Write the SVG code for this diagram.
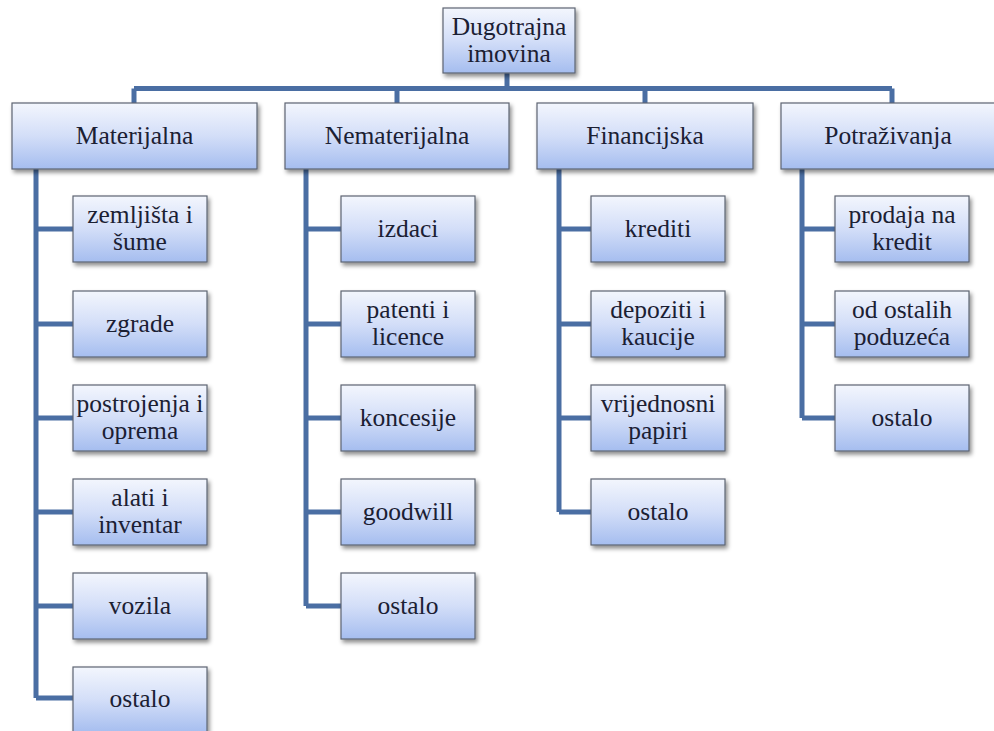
<svg xmlns="http://www.w3.org/2000/svg" width="994" height="731" viewBox="0 0 994 731">
<defs>
<linearGradient id="g" x1="0" y1="0" x2="0" y2="1">
<stop offset="0" stop-color="#f3f6fd"/>
<stop offset="0.5" stop-color="#d3def8"/>
<stop offset="1" stop-color="#a5bdef"/>
</linearGradient>
<filter id="sh" x="-10%" y="-10%" width="130%" height="140%">
<feDropShadow dx="2" dy="3" stdDeviation="2" flood-color="#000" flood-opacity="0.45"/>
</filter>
</defs>
<style>
.b{fill:url(#g);stroke:#5d6472;stroke-width:1.2;filter:url(#sh)}
.t{font-family:'Liberation Serif','Times New Roman',serif;font-size:25.5px;fill:#1b2033;text-anchor:middle}
.c{fill:none;stroke:#4a6ea3;stroke-width:5;stroke-linejoin:miter}
</style>
<rect width="994" height="731" fill="#ffffff"/>
<g id="connectors">
<path class="c" d="M507,73 V88.5 M134,88.5 H892 M134,88.5 V103 M397,88.5 V103 M645,88.5 V103 M892,88.5 V103"/>
<path class="c" d="M36,169 V698 M36,229 H73 M36,324 H73 M36,418 H73 M36,512 H73 M36,606 H73 M36,698 H73"/>
<path class="c" d="M306,169 V606 M306,229 H341 M306,324 H341 M306,418 H341 M306,512 H341 M306,606 H341"/>
<path class="c" d="M559,169 V512 M559,229 H591 M559,324 H591 M559,418 H591 M559,512 H591"/>
<path class="c" d="M802,169 V418 M802,229 H835 M802,324 H835 M802,418 H835"/>
</g>
<g id="root"><rect class="b" x="443" y="8" width="132" height="65"/><text class="t" x="509" y="35">Dugotrajna</text><text class="t" x="509" y="62">imovina</text></g>
<g id="materijalna"><rect class="b" x="12" y="103" width="245" height="66"/><text class="t" x="134.5" y="144">Materijalna</text></g>
<g id="nematerijalna"><rect class="b" x="285" y="103" width="224" height="66"/><text class="t" x="397" y="144">Nematerijalna</text></g>
<g id="financijska"><rect class="b" x="537" y="103" width="216" height="66"/><text class="t" x="645" y="144">Financijska</text></g>
<g id="potrazivanja"><rect class="b" x="781" y="103" width="224" height="66"/><text class="t" x="888" y="144">Potraživanja</text></g>

<g id="m1"><rect class="b" x="73" y="196" width="134" height="66"/><text class="t" x="140" y="223">zemljišta i</text><text class="t" x="140" y="250">šume</text></g>
<g id="m2"><rect class="b" x="73" y="291" width="134" height="66"/><text class="t" x="140" y="332">zgrade</text></g>
<g id="m3"><rect class="b" x="73" y="385" width="134" height="66"/><text class="t" x="140" y="412">postrojenja i</text><text class="t" x="140" y="439">oprema</text></g>
<g id="m4"><rect class="b" x="73" y="479" width="134" height="66"/><text class="t" x="140" y="506">alati i</text><text class="t" x="140" y="533">inventar</text></g>
<g id="m5"><rect class="b" x="73" y="573" width="134" height="66"/><text class="t" x="140" y="614">vozila</text></g>
<g id="m6"><rect class="b" x="73" y="667" width="134" height="66"/><text class="t" x="140" y="707">ostalo</text></g>

<g id="n1"><rect class="b" x="341" y="196" width="134" height="66"/><text class="t" x="408" y="237">izdaci</text></g>
<g id="n2"><rect class="b" x="341" y="291" width="134" height="66"/><text class="t" x="408" y="318">patenti i</text><text class="t" x="408" y="345">licence</text></g>
<g id="n3"><rect class="b" x="341" y="385" width="134" height="66"/><text class="t" x="408" y="426">koncesije</text></g>
<g id="n4"><rect class="b" x="341" y="479" width="134" height="66"/><text class="t" x="408" y="520">goodwill</text></g>
<g id="n5"><rect class="b" x="341" y="573" width="134" height="66"/><text class="t" x="408" y="614">ostalo</text></g>

<g id="f1"><rect class="b" x="591" y="196" width="134" height="66"/><text class="t" x="658" y="237">krediti</text></g>
<g id="f2"><rect class="b" x="591" y="291" width="134" height="66"/><text class="t" x="658" y="318">depoziti i</text><text class="t" x="658" y="345">kaucije</text></g>
<g id="f3"><rect class="b" x="591" y="385" width="134" height="66"/><text class="t" x="658" y="412">vrijednosni</text><text class="t" x="658" y="439">papiri</text></g>
<g id="f4"><rect class="b" x="591" y="479" width="134" height="66"/><text class="t" x="658" y="520">ostalo</text></g>

<g id="p1"><rect class="b" x="835" y="196" width="134" height="66"/><text class="t" x="902" y="223">prodaja na</text><text class="t" x="902" y="250">kredit</text></g>
<g id="p2"><rect class="b" x="835" y="291" width="134" height="66"/><text class="t" x="902" y="318">od ostalih</text><text class="t" x="902" y="345">poduzeća</text></g>
<g id="p3"><rect class="b" x="835" y="385" width="134" height="66"/><text class="t" x="902" y="426">ostalo</text></g>
</svg>
